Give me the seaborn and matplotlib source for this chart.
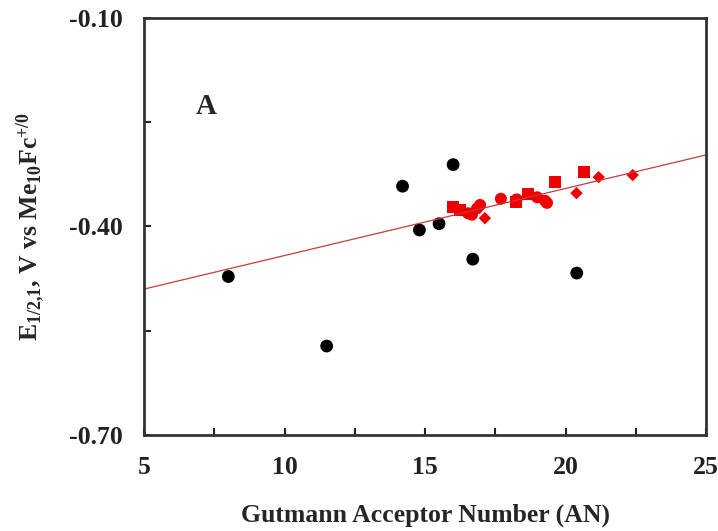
import matplotlib
matplotlib.use("Agg")
import matplotlib.pyplot as plt
import pandas as pd
import seaborn as sns

# black circles (solvents off the trend)
black_an = [8.0, 11.5, 14.2, 16.0, 14.8, 15.5, 16.7, 20.4]
black_e = [-0.472, -0.572, -0.342, -0.311, -0.405, -0.396, -0.447, -0.467]

# red markers (on the trend)
sq_an = [16.0, 16.25, 18.24, 18.67, 19.63, 20.66]
sq_e = [-0.372, -0.376, -0.365, -0.353, -0.336, -0.322]
circ_an = [16.53, 16.67, 16.96, 16.85, 17.7, 18.26, 18.99, 19.27, 19.34]
circ_e = [-0.381, -0.383, -0.369, -0.374, -0.360, -0.361, -0.358, -0.363, -0.366]
dia_an = [17.13, 20.39, 21.18, 22.39]
dia_e = [-0.388, -0.352, -0.329, -0.326]

# linear fit
fit_slope = 0.00965
fit_intercept = -0.5383
fit_an = [5, 25]

x_ticks = [5, 7.5, 10, 12.5, 15, 17.5, 20, 22.5, 25]
x_labels = ["5", "", "10", "", "15", "", "20", "", "25"]
y_ticks = [-0.70, -0.55, -0.40, -0.25, -0.10]
y_labels = ["-0.70", "", "-0.40", "", "-0.10"]

sns.set_style("ticks")
plt.rcParams["font.family"] = ["Liberation Serif", "DejaVu Serif"]
plt.rcParams["font.weight"] = "bold"
plt.rcParams["mathtext.fontset"] = "custom"
plt.rcParams["mathtext.rm"] = "Liberation Serif:bold"
plt.rcParams["mathtext.it"] = "Liberation Serif:bold"
plt.rcParams["mathtext.bf"] = "Liberation Serif:bold"
plt.rcParams["mathtext.default"] = "rm"

fig = plt.figure(figsize=(7.18, 5.31), dpi=100)
ax = fig.add_axes([0.2006, 0.1808, 0.7827, 0.7853])

fit_df = pd.DataFrame({"an": fit_an, "e": [fit_intercept + fit_slope * x for x in fit_an]})
sns.lineplot(data=fit_df, x="an", y="e", color="#c83a3a", linewidth=0.9, ax=ax)

sns.scatterplot(x=black_an, y=black_e, color="black", marker="o", s=85,
                edgecolor="none", ax=ax)
sns.scatterplot(x=sq_an, y=sq_e, color="#ee0000", marker="s", s=75,
                edgecolor="none", ax=ax)
sns.scatterplot(x=circ_an, y=circ_e, color="#ee0000", marker="o", s=75,
                edgecolor="none", ax=ax)
sns.scatterplot(x=dia_an, y=dia_e, color="#ee0000", marker="D", s=40,
                edgecolor="none", ax=ax)

ax.set_xlim(5, 25)
ax.set_ylim(-0.70, -0.10)
ax.set_xticks(x_ticks)
ax.set_xticklabels(x_labels)
ax.set_yticks(y_ticks)
ax.set_yticklabels(y_labels)
ax.tick_params(direction="in", length=5, width=1.5, labelsize=18.5, colors="#222222")
ax.tick_params(axis="y", pad=15)
ax.tick_params(axis="x", pad=15)
for s in ax.spines.values():
    s.set_visible(True)
    s.set_linewidth(2)
    s.set_color("#333333")

ax.set_xlabel("Gutmann Acceptor Number (AN)", fontsize=18.5, fontweight="bold", labelpad=18)
ax.set_ylabel("E$_{1/2{,}1}$, V vs Me$_{10}$Fc$^{+/0}$", fontsize=18.5, fontweight="bold", labelpad=16)
ax.text(7.2, -0.227, "A", fontsize=21, fontweight="bold", ha="center", va="center")

fig.savefig("out.png", dpi=100)
